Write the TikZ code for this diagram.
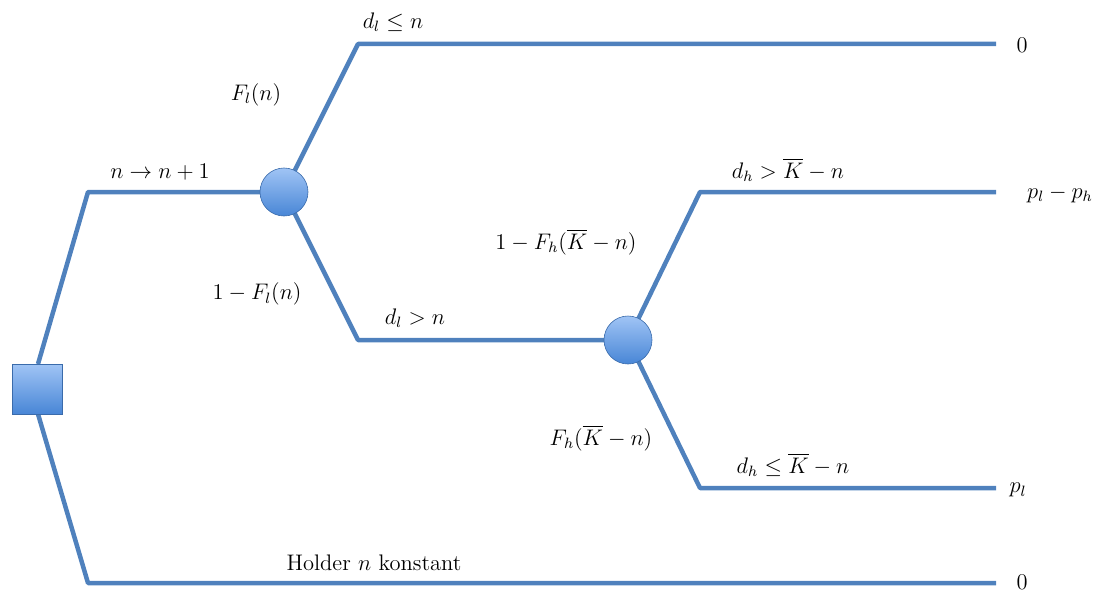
\documentclass[tikz,border=0pt]{standalone}
\usepackage{amsmath,amssymb,graphicx}
\usetikzlibrary{shadings}
\definecolor{lineblue}{RGB}{79,129,189}
\definecolor{toplight}{RGB}{160,196,245}
\definecolor{botdark}{RGB}{72,134,214}
\newcommand\lbtxt[1]{\scalebox{1.875}{#1}}
\begin{document}
\begin{tikzpicture}[x=1pt,y=-1pt,
  branch/.style={draw=lineblue,line width=4.5pt,line join=round},
  chance/.style={circle,minimum size=48pt,inner sep=0pt,draw=botdark!80!black,line width=0.6pt,top color=toplight,bottom color=botdark},
  decision/.style={rectangle,minimum size=50pt,inner sep=0pt,draw=botdark!80!black,line width=0.6pt,top color=toplight,bottom color=botdark},
  lbl/.style={font=\fontsize{12}{14}\selectfont,inner sep=0pt}]
\useasboundingbox (0,0) rectangle (1112,594);
% coordinates
\coordinate (b1) at (88,192);
\coordinate (b2) at (88,583);
\coordinate (e4) at (996,583);
\coordinate (u1) at (358,44);
\coordinate (e1) at (996,44);
\coordinate (d1) at (358,340);
\coordinate (u2) at (700,192);
\coordinate (e2) at (996,192);
\coordinate (d2) at (700,488);
\coordinate (e3) at (996,488);
\coordinate (sqt) at (38,364);
\coordinate (sqb) at (38,414);
% branches
\path[branch] (sqt) -- (b1) -- (284,192);
\path[branch] (sqb) -- (b2) -- (e4);
\path[branch] (284,192) -- (u1) -- (e1);
\path[branch] (284,192) -- (d1) -- (628,340);
\path[branch] (628,340) -- (u2) -- (e2);
\path[branch] (628,340) -- (d2) -- (e3);
% nodes
\node[decision] (sq) at (37,389) {};
\node[chance] (c1) at (284,192) {};
\node[chance] (c2) at (628,340) {};
% labels
\node[lbl] (l1) at (393,22) {\lbtxt{$d_l \le n$}};
\node[lbl] (l2) at (256,95) {\lbtxt{$F_l(n)$}};
\node[lbl] (l3) at (160,172) {\lbtxt{$n \to n+1$}};
\node[lbl] (l4) at (257,294) {\lbtxt{$1-F_l(n)$}};
\node[lbl] (l5) at (415,318) {\lbtxt{$d_l > n$}};
\node[lbl] (l6) at (788,170) {\lbtxt{$d_h > \overline{K} - n$}};
\node[lbl] (l7) at (566,242) {\lbtxt{$1-F_h(\overline{K}-n)$}};
\node[lbl] (l8) at (601,438) {\lbtxt{$F_h(\overline{K}-n)$}};
\node[lbl] (l9) at (793,465) {\lbtxt{$d_h \le \overline{K} - n$}};
\node[lbl] (l10) at (374,563) {\lbtxt{Holder $n$ konstant}};
\node[lbl] (r1) at (1022,45) {\lbtxt{$0$}};
\node[lbl] (r2) at (1060,194) {\lbtxt{$p_l - p_h$}};
\node[lbl] (r3) at (1018,490) {\lbtxt{$p_l$}};
\node[lbl] (r4) at (1022,582) {\lbtxt{$0$}};
\end{tikzpicture}
\end{document}
